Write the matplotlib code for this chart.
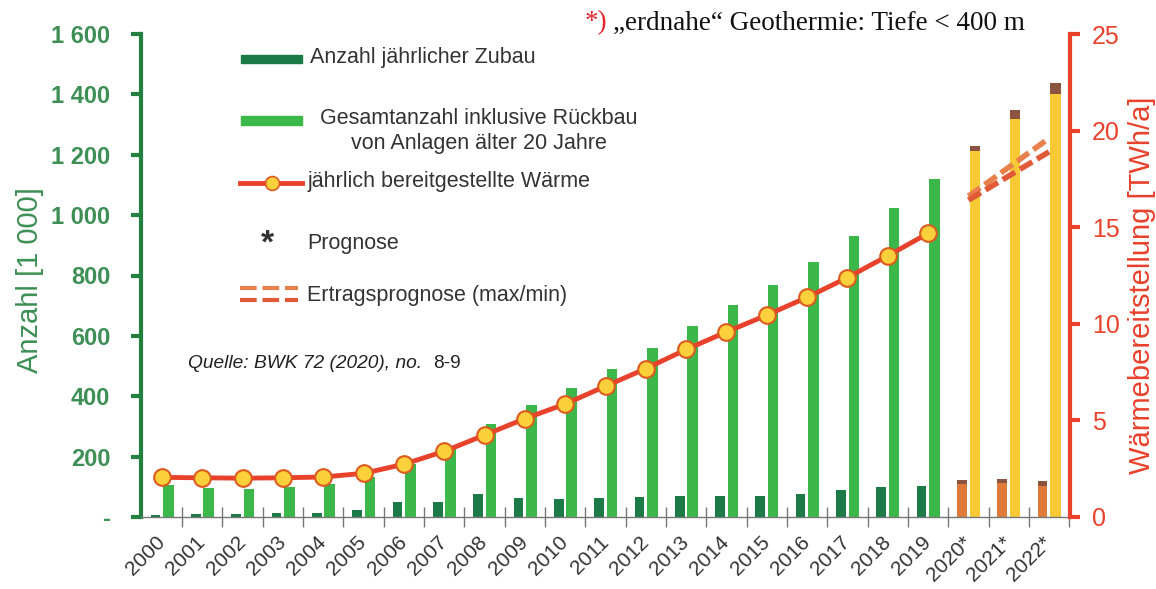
import numpy as np
import matplotlib.pyplot as plt
from matplotlib.patches import Rectangle
from matplotlib.lines import Line2D

plt.rcParams['font.family'] = ['Liberation Sans', 'DejaVu Sans']

# Data (Anzahl in 1 000, Wärme in TWh/a)
years = [str(y) for y in range(2000, 2020)] + ["2020*", "2021*", "2022*"]
zubau = [8, 11, 10, 12, 14, 22, 50, 50, 75, 64, 58, 62, 67, 70, 69, 68, 77, 90, 98, 102]
gesamt = [106, 96, 94, 100, 110, 131, 174, 224, 307, 370, 428, 490, 560, 632, 703,
          769, 845, 932, 1025, 1120]
zubau_prog = [110, 112, 103]
zubau_prog_cap = [13, 14, 15]
gesamt_prog = [1213, 1317, 1401]
gesamt_prog_cap = [16, 32, 37]
waerme = [2.05, 2.03, 2.01, 2.03, 2.07, 2.26, 2.73, 3.40, 4.24, 5.09, 5.85, 6.77,
          7.68, 8.67, 9.58, 10.45, 11.37, 12.39, 13.52, 14.68]
ertrag_years = [20, 22]
ertrag_max = [16.6, 19.6]
ertrag_min = [16.4, 18.9]

c_dark = '#1b7a45'
c_light = '#3cb84a'
c_axis_green = '#23803f'
c_tick_green = '#3d8f55'
c_red = '#e8412c'
c_yellow = '#f6c935'
c_orange = '#e07a3a'
c_brown = '#8a5440'
c_text = '#333333'

W, H = 1156, 589
fig = plt.figure(figsize=(W / 100, H / 100), dpi=100)
ax = fig.add_axes([141 / W, 1 - 517 / H, (1070 - 141) / W, (517 - 34) / H])
ax2 = ax.twinx()

x = np.arange(len(gesamt))
xp = np.arange(len(gesamt), len(gesamt) + len(gesamt_prog))

# bars
ax.bar(x - 0.16, zubau, width=0.24, color=c_dark, zorder=2)
ax.bar(x + 0.16, gesamt, width=0.26, color=c_light, zorder=2)
ax.bar(xp - 0.16, zubau_prog, width=0.24, color=c_orange, zorder=2)
ax.bar(xp - 0.16, zubau_prog_cap, width=0.24, bottom=zubau_prog, color=c_brown, zorder=2)
ax.bar(xp + 0.16, gesamt_prog, width=0.26, color=c_yellow, zorder=2)
ax.bar(xp + 0.16, gesamt_prog_cap, width=0.26, bottom=gesamt_prog, color=c_brown, zorder=2)

# heat line and forecast
ax2.plot(x, waerme, color=c_red, lw=3.5, marker='o', ms=12,
         mfc='#fcd03a', mec='#dd5a20', mew=1.5, zorder=3)
ax2.plot(ertrag_years, ertrag_max, color='#e8804c', lw=4, dashes=(2.6, 1.0), zorder=3)
ax2.plot(ertrag_years, ertrag_min, color='#e05a38', lw=4, dashes=(2.6, 1.0), zorder=3)

ax.set_xlim(-0.52, 22.52)
ax.set_ylim(0, 1600)
ax2.set_ylim(0, 25)

# left axis
ax.set_yticks(range(0, 1601, 200))
ax.set_yticklabels(['-', '200', '400', '600', '800', '1 000', '1 200', '1 400', '1 600'])
ax.tick_params(axis='y', direction='out', length=7, width=3, color=c_axis_green,
               labelcolor=c_tick_green, labelsize=17, pad=15)
for lbl in ax.get_yticklabels():
    lbl.set_fontweight('bold')
ax.set_ylabel('Anzahl [1 000]', color=c_tick_green, fontsize=21)
ax.yaxis.set_label_coords(-0.104, 0.49)

# right axis
ax2.set_yticks(range(0, 26, 5))
ax2.tick_params(axis='y', direction='out', length=7, width=3, color=c_red,
                labelcolor=c_red, labelsize=18, pad=9)
ax2.set_ylabel('Wärmebereitstellung [TWh/a]', color=c_red, fontsize=21)
ax2.yaxis.set_label_coords(1.062, 0.48)

# x axis: labels at the categories, ticks between them
ax.set_xticks(x.tolist() + xp.tolist())
ax.set_xticklabels(years, rotation=45, ha='right', va='center', rotation_mode='anchor')
ax.tick_params(axis='x', length=0, labelsize=15, labelcolor=c_text, pad=16)
ax.set_xticks(np.arange(0.5, 22.6, 1), minor=True)
ax.tick_params(axis='x', which='minor', direction='inout', length=14, width=1, color='#777777')

for s in ['top', 'right']:
    ax.spines[s].set_visible(False)
for s in ['top', 'left', 'bottom']:
    ax2.spines[s].set_visible(False)
ax.spines['left'].set_color(c_axis_green)
ax.spines['left'].set_linewidth(3)
ax.spines['bottom'].set_color('#777777')
ax.spines['bottom'].set_linewidth(1)
ax2.spines['right'].set_color(c_red)
ax2.spines['right'].set_linewidth(3)


# legend, placed in pixel coordinates
def fx(px):
    return px / W


def fy(py):
    return 1 - py / H


tf = fig.transFigure
fs = 15.5
fig.add_artist(Rectangle((fx(241), fy(63)), 61 / W, 8 / H, color=c_dark, transform=tf))
fig.text(fx(310), fy(57), 'Anzahl jährlicher Zubau', va='center', fontsize=fs, color=c_text)
fig.add_artist(Rectangle((fx(241), fy(125)), 61 / W, 9 / H, color=c_light, transform=tf))
fig.text(fx(479), fy(131), 'Gesamtanzahl inklusive Rückbau\nvon Anlagen älter 20 Jahre',
         ha='center', va='center', multialignment='center', linespacing=1.2,
         fontsize=fs, color=c_text)
fig.add_artist(Line2D([fx(240), fx(302)], [fy(183), fy(183)], color=c_red, lw=3.5,
                      transform=tf))
fig.add_artist(Line2D([fx(272)], [fy(183)], marker='o', ms=10, mfc='#fcd03a',
                      mec='#dd5a20', mew=1.2, transform=tf))
fig.text(fx(308), fy(182), 'jährlich bereitgestellte Wärme', va='center', fontsize=fs,
         color=c_text)
fig.text(fx(267), fy(244), '*', ha='center', va='center', fontsize=24, fontweight='bold',
         color=c_text)
fig.text(fx(307), fy(243), 'Prognose', va='center', fontsize=fs, color=c_text)
fig.add_artist(Line2D([fx(240), fx(298)], [fy(288), fy(288)], color='#e8804c', lw=3,
                      dashes=(4, 1.4), transform=tf))
fig.add_artist(Line2D([fx(240), fx(298)], [fy(300), fy(300)], color='#e05a38', lw=3,
                      dashes=(4, 1.4), transform=tf))
fig.text(fx(307), fy(296), 'Ertragsprognose (max/min)', va='center', fontsize=fs,
         color=c_text)

# source and footnote
fig.text(fx(188), fy(364), 'Quelle: BWK 72 (2020), no.', va='center', fontsize=13.8,
         style='italic', color='#222222')
fig.text(fx(433), fy(364), '8-9', va='center', fontsize=13.8, color='#222222')
fig.text(fx(585), fy(23), '*)', va='center', fontsize=19.5, color='#e8202a',
         family='Liberation Serif')
fig.text(fx(613), fy(23), '„erdnahe“ Geothermie: Tiefe < 400 m', va='center', fontsize=19.5,
         color='#111111', family='Liberation Serif')

fig.savefig('out.png', dpi=100)
